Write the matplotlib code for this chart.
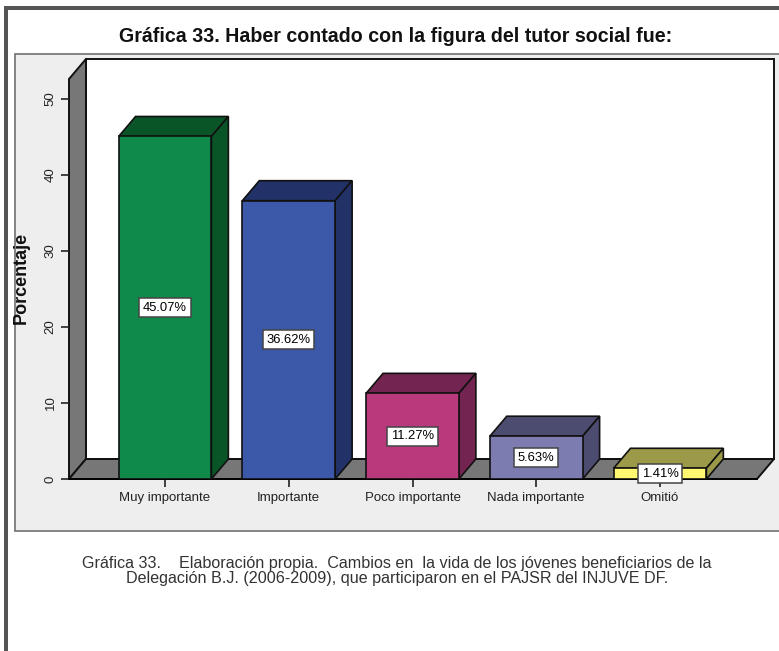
import matplotlib
matplotlib.use("Agg")
import matplotlib.pyplot as plt
from matplotlib.patches import Polygon, Rectangle

plt.rcParams['font.family'] = ['Liberation Sans', 'DejaVu Sans']

categories = ["Muy importante", "Importante", "Poco importante", "Nada importante", "Omitió"]
values = [45.07, 36.62, 11.27, 5.63, 1.41]
front_colors = ["#108a4a", "#3c58a8", "#b83a7c", "#7c7cb0", "#fff870"]
dark_colors = ["#0a5528", "#223268", "#742450", "#4c4c70", "#9c9a48"]
yticks = [0, 10, 20, 30, 40, 50]

W, H = 779, 651
DEPTH_X = 0.137   # 3d offset in category units
DEPTH_Y = 2.63    # 3d offset in percent units
BAR_W = 0.75


def px_rect(x0, y0, x1, y1, **kw):
    # rectangle given in image pixels, y going down
    return Rectangle((x0 / W, 1 - y1 / H), (x1 - x0) / W, (y1 - y0) / H,
                     transform=fig.transFigure, zorder=-1, **kw)


fig = plt.figure(figsize=(W / 100, H / 100), dpi=100, facecolor="white")

# page border and grey chart panel
fig.add_artist(px_rect(4, 6, 8, H, facecolor="#555555", edgecolor="none"))
fig.add_artist(px_rect(4, 6, W, 10, facecolor="#555555", edgecolor="none"))
fig.add_artist(px_rect(14.5, 53.5, W + 5, 531, facecolor="#eeeeee", edgecolor="#707070", linewidth=1.2))

ax = fig.add_axes([69 / W, 1 - 479 / H, (757 - 69) / W, (479 - 79) / H])
ax.patch.set_alpha(0)
ax.set_xlim(-0.776, 4.784)
ax.set_ylim(0, 400 / 7.6)
for s in ["top", "right"]:
    ax.spines[s].set_visible(False)
ax.spines["left"].set_visible(False)
ax.spines["bottom"].set_linewidth(1.2)

x0, x1 = ax.get_xlim()
y1 = ax.get_ylim()[1]

# back wall, side wall and floor
wall = dict(clip_on=False, edgecolor="#111111", linewidth=1.4)
ax.add_patch(Polygon([(x0 + DEPTH_X, DEPTH_Y), (x1 + DEPTH_X, DEPTH_Y), (x1 + DEPTH_X, y1 + DEPTH_Y),
                      (x0 + DEPTH_X, y1 + DEPTH_Y)], facecolor="white", zorder=1, **wall))
ax.add_patch(Polygon([(x0, 0), (x0 + DEPTH_X, DEPTH_Y), (x0 + DEPTH_X, y1 + DEPTH_Y), (x0, y1)],
                     facecolor="#777777", zorder=1, **wall))
ax.add_patch(Polygon([(x0, 0), (x1, 0), (x1 + DEPTH_X, DEPTH_Y), (x0 + DEPTH_X, DEPTH_Y)],
                     facecolor="#777777", zorder=1, **wall))

xs = list(range(len(categories)))
ax.bar(xs, values, width=BAR_W, color=front_colors, edgecolor="#111111", linewidth=1.2, zorder=4)

for x, v, dark in zip(xs, values, dark_colors):
    left, right = x - BAR_W / 2, x + BAR_W / 2
    # top and side faces
    ax.add_patch(Polygon([(left, v), (right, v), (right + DEPTH_X, v + DEPTH_Y), (left + DEPTH_X, v + DEPTH_Y)],
                         facecolor=dark, edgecolor="#111111", linewidth=1.2, zorder=3))
    ax.add_patch(Polygon([(right, 0), (right + DEPTH_X, DEPTH_Y), (right + DEPTH_X, v + DEPTH_Y), (right, v)],
                         facecolor=dark, edgecolor="#111111", linewidth=1.2, zorder=3))
    ax.text(x, v / 2, f"{v:.2f}%", ha="center", va="center", fontsize=9.4, color="black", zorder=6,
            bbox=dict(boxstyle="square,pad=0.28", facecolor="white", edgecolor="#444444", linewidth=1.1))

ax.set_xticks(xs)
ax.set_xticklabels(categories, fontsize=9.5)
ax.tick_params(axis="x", length=6, width=1.2, pad=3.5, colors="#222222")
ax.set_yticks(yticks)
ax.set_yticklabels([str(t) for t in yticks], rotation=90, va="center", fontsize=9.5)
ax.tick_params(axis="y", length=6, width=1.2, pad=3, colors="#222222")

fig.text(21 / W, 1 - 278 / H, "Porcentaje", rotation=90, ha="center", va="center",
         fontsize=13, fontweight="bold", color="#111111")
fig.text(396 / W, 1 - 36 / H, "Gráfica 33. Haber contado con la figura del tutor social fue:",
         ha="center", va="center", fontsize=14.1, fontweight="bold", color="#111111")
fig.text(397 / W, 1 - 571 / H,
         "Gráfica 33.    Elaboración propia.  Cambios en  la vida de los jóvenes beneficiarios de la\n"
         "Delegación B.J. (2006-2009), que participaron en el PAJSR del INJUVE DF.",
         ha="center", va="center", fontsize=11.6, color="#333333", linespacing=0.95)

fig.savefig("out.png", dpi=100)
